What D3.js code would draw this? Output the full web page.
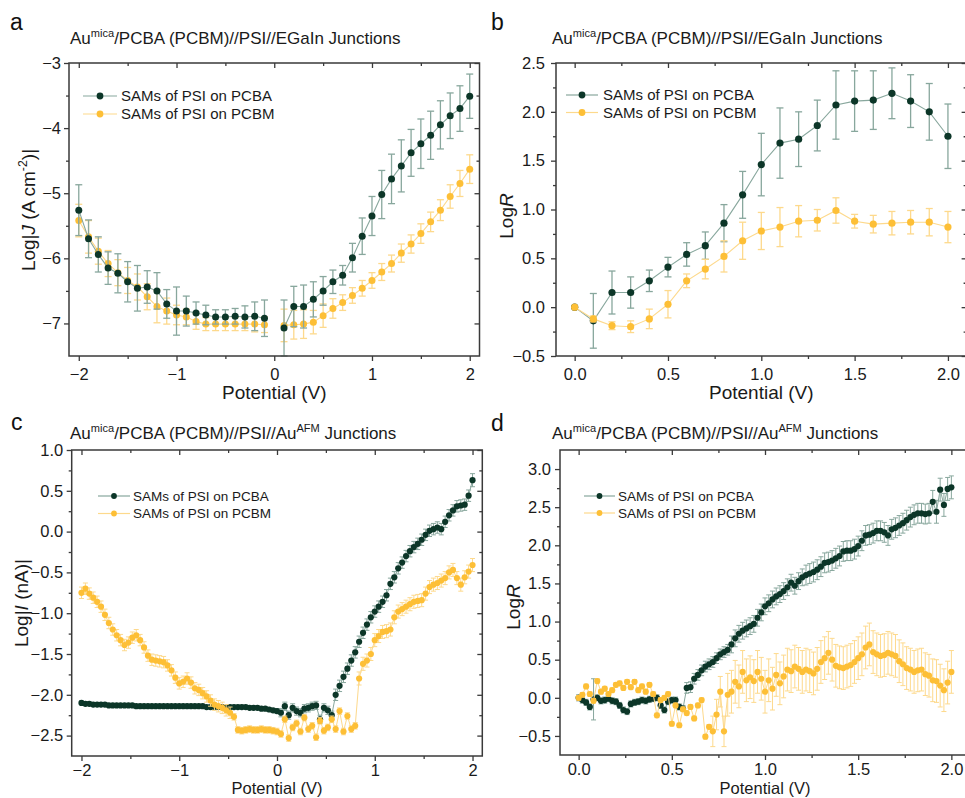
<!DOCTYPE html>
<html>
<head>
<meta charset="utf-8">
<script src="https://cdn.jsdelivr.net/npm/d3@7"></script>
<style>
body { margin: 0; background: #fff; }
</style>
</head>
<body>
<script>
// ---- panel a : EGaIn, log|J| vs potential (0.1 V steps, no point at 0 V)
var aVolts = [-2.0,-1.9,-1.8,-1.7,-1.6,-1.5,-1.4,-1.3,-1.2,-1.1,-1.0,-0.9,-0.8,-0.7,-0.6,-0.5,-0.4,-0.3,-0.2,-0.1,0,
  0.1,0.2,0.3,0.4,0.5,0.6,0.7,0.8,0.9,1.0,1.1,1.2,1.3,1.4,1.5,1.6,1.7,1.8,1.9,2.0];
var aPCBA = [-5.26,-5.70,-5.94,-6.15,-6.23,-6.36,-6.46,-6.44,-6.50,-6.70,-6.81,-6.81,-6.84,-6.87,-6.90,-6.90,-6.89,-6.90,-6.89,-6.92,null,
  -7.07,-6.74,-6.74,-6.63,-6.50,-6.36,-6.26,-5.99,-5.66,-5.35,-5.02,-4.78,-4.58,-4.38,-4.24,-4.11,-3.95,-3.81,-3.70,-3.51];
var aPCBAErr = [0.39,0.29,0.27,0.25,0.30,0.31,0.35,0.25,0.28,0.22,0.37,0.23,0.17,0.15,0.11,0.11,0.12,0.17,0.22,0.28,null,
  0.43,0.31,0.33,0.27,0.22,0.18,0.15,0.22,0.28,0.30,0.37,0.38,0.40,0.36,0.38,0.37,0.37,0.35,0.35,0.34];
var aPCBM = [-5.42,-5.67,-5.89,-6.08,-6.22,-6.34,-6.44,-6.59,-6.74,-6.81,-6.87,-6.90,-6.97,-7.01,-7.01,-7.01,-7.01,-7.01,-7.01,-7.02,null,
  -7.03,-7.02,-7.01,-6.98,-6.88,-6.77,-6.68,-6.57,-6.46,-6.34,-6.21,-6.08,-5.92,-5.78,-5.62,-5.44,-5.26,-5.05,-4.85,-4.63];
var aPCBMErr = [0.25,0.25,0.20,0.20,0.20,0.20,0.20,0.20,0.25,0.20,0.15,0.12,0.12,0.10,0.10,0.10,0.10,0.10,0.12,0.12,null,
  0.25,0.22,0.22,0.18,0.18,0.15,0.12,0.12,0.12,0.12,0.13,0.13,0.14,0.14,0.15,0.15,0.16,0.18,0.20,0.22];

// ---- panel b : EGaIn, log R
var bVolts = [0.0,0.1,0.2,0.3,0.4,0.5,0.6,0.7,0.8,0.9,1.0,1.1,1.2,1.3,1.4,1.5,1.6,1.7,1.8,1.9,2.0];
var bPCBA = [0.00,-0.14,0.15,0.15,0.27,0.41,0.54,0.63,0.86,1.15,1.46,1.68,1.72,1.86,2.07,2.11,2.12,2.19,2.11,2.00,1.75];
var bPCBAErr = [0,0.28,0.22,0.16,0.11,0.10,0.12,0.14,0.19,0.24,0.32,0.36,0.28,0.26,0.35,0.31,0.30,0.26,0.27,0.29,0.33];
var bPCBM = [0.00,-0.12,-0.19,-0.20,-0.12,0.03,0.27,0.39,0.52,0.68,0.78,0.82,0.88,0.89,0.99,0.88,0.85,0.86,0.87,0.87,0.82];
var bPCBMErr = [0,0.03,0.04,0.06,0.10,0.14,0.07,0.10,0.16,0.19,0.19,0.20,0.16,0.11,0.13,0.07,0.09,0.12,0.12,0.14,0.16];

// ---- panel c : CP-AFM, log|I|
var cVolts = [-2.00,-1.96,-1.92,-1.88,-1.84,-1.80,-1.76,-1.72,-1.68,-1.64,
  -1.60,-1.56,-1.52,-1.48,-1.44,-1.40,-1.36,-1.32,-1.28,-1.24,
  -1.20,-1.16,-1.12,-1.08,-1.04,-1.00,-0.96,-0.92,-0.88,-0.84,
  -0.80,-0.76,-0.72,-0.68,-0.64,-0.60,-0.56,-0.52,-0.48,-0.44,
  -0.40,-0.36,-0.32,-0.28,-0.24,-0.20,-0.16,-0.12,-0.08,-0.04,
  0.00,0.04,0.08,0.12,0.16,0.20,0.24,0.28,0.32,0.36,
  0.40,0.44,0.48,0.52,0.56,0.60,0.64,0.68,0.72,0.76,
  0.80,0.84,0.88,0.92,0.96,1.00,1.04,1.08,1.12,1.16,
  1.20,1.24,1.28,1.32,1.36,1.40,1.44,1.48,1.52,1.56,
  1.60,1.64,1.68,1.72,1.76,1.80,1.84,1.88,1.92,1.96,
  2.00];
var cPCBA = [-2.10,-2.11,-2.11,-2.12,-2.12,-2.12,-2.12,-2.13,-2.13,-2.13,
  -2.13,-2.13,-2.13,-2.13,-2.14,-2.14,-2.14,-2.14,-2.14,-2.14,
  -2.14,-2.14,-2.14,-2.14,-2.14,-2.14,-2.14,-2.14,-2.14,-2.14,
  -2.14,-2.14,-2.15,-2.15,-2.15,-2.15,-2.15,-2.15,-2.15,-2.15,
  -2.15,-2.15,-2.15,-2.16,-2.16,-2.16,-2.17,-2.17,-2.18,-2.19,
  -2.20,-2.22,-2.14,-2.25,-2.16,-2.20,-2.22,-2.17,-2.16,-2.14,
  -2.13,-2.30,-2.16,-2.19,-2.25,-2.00,-1.89,-1.78,-1.68,-1.58,
  -1.48,-1.35,-1.24,-1.14,-1.05,-0.98,-0.92,-0.86,-0.78,-0.64,
  -0.56,-0.45,-0.38,-0.30,-0.24,-0.19,-0.15,-0.10,-0.04,0.01,
  0.03,0.05,0.03,0.12,0.20,0.26,0.31,0.32,0.33,0.44,
  0.63];
var cPCBAErr = [0.02,0.02,0.02,0.02,0.02,0.02,0.02,0.02,0.02,0.02,
  0.02,0.02,0.02,0.02,0.02,0.02,0.02,0.02,0.02,0.02,
  0.02,0.02,0.02,0.02,0.02,0.02,0.02,0.02,0.02,0.02,
  0.02,0.02,0.02,0.02,0.02,0.02,0.02,0.02,0.02,0.02,
  0.02,0.02,0.02,0.02,0.02,0.02,0.02,0.02,0.02,0.02,
  0.03,0.05,0.05,0.05,0.05,0.05,0.05,0.05,0.05,0.05,
  0.05,0.05,0.05,0.05,0.05,0.07,0.07,0.07,0.07,0.07,
  0.07,0.07,0.07,0.07,0.07,0.07,0.07,0.07,0.07,0.07,
  0.07,0.07,0.07,0.07,0.07,0.07,0.07,0.07,0.07,0.07,
  0.07,0.07,0.07,0.07,0.07,0.07,0.07,0.07,0.07,0.07,
  0.08];
var cPCBM = [-0.75,-0.70,-0.76,-0.81,-0.86,-0.92,-1.02,-1.12,-1.20,-1.27,
  -1.33,-1.39,-1.36,-1.30,-1.27,-1.33,-1.42,-1.52,-1.57,-1.58,
  -1.59,-1.60,-1.64,-1.70,-1.79,-1.86,-1.84,-1.80,-1.85,-1.92,
  -1.94,-1.98,-2.02,-2.07,-2.12,-2.14,-2.16,-2.19,-2.22,-2.27,
  -2.43,-2.44,-2.43,-2.42,-2.43,-2.43,-2.42,-2.43,-2.43,-2.44,
  -2.45,-2.48,-2.30,-2.53,-2.40,-2.35,-2.45,-2.28,-2.42,-2.38,
  -2.52,-2.32,-2.44,-2.40,-2.30,-2.42,-2.20,-2.45,-2.26,-2.42,
  -2.38,-1.80,-1.62,-1.58,-1.50,-1.33,-1.28,-1.23,-1.22,-1.20,
  -1.05,-0.98,-0.95,-0.92,-0.89,-0.86,-0.85,-0.84,-0.76,-0.68,
  -0.65,-0.63,-0.60,-0.57,-0.50,-0.47,-0.57,-0.65,-0.56,-0.49,
  -0.41];
var cPCBMErr = [0.07,0.07,0.07,0.07,0.07,0.07,0.07,0.07,0.07,0.07,
  0.07,0.07,0.07,0.07,0.07,0.07,0.07,0.07,0.07,0.07,
  0.07,0.07,0.07,0.07,0.07,0.07,0.07,0.07,0.07,0.07,
  0.07,0.07,0.07,0.07,0.07,0.07,0.07,0.07,0.07,0.04,
  0.04,0.04,0.04,0.04,0.04,0.04,0.04,0.04,0.04,0.04,
  0.04,0.04,0.04,0.04,0.04,0.04,0.04,0.04,0.04,0.04,
  0.04,0.04,0.04,0.04,0.04,0.04,0.04,0.04,0.04,0.04,
  0.04,0.08,0.08,0.08,0.08,0.08,0.08,0.08,0.08,0.08,
  0.08,0.08,0.08,0.08,0.08,0.08,0.08,0.08,0.08,0.08,
  0.08,0.08,0.08,0.08,0.08,0.08,0.08,0.08,0.08,0.08,
  0.08];

// ---- panel d : CP-AFM, log R
var dVolts = [0.00,0.02,0.04,0.06,0.08,0.10,0.12,0.14,0.16,0.18,
  0.20,0.22,0.24,0.26,0.28,0.30,0.32,0.34,0.36,0.38,
  0.40,0.42,0.44,0.46,0.48,0.50,0.52,0.54,0.56,0.58,
  0.60,0.62,0.64,0.66,0.68,0.70,0.72,0.74,0.76,0.78,
  0.80,0.82,0.84,0.86,0.88,0.90,0.92,0.94,0.96,0.98,
  1.00,1.02,1.04,1.06,1.08,1.10,1.12,1.14,1.16,1.18,
  1.20,1.22,1.24,1.26,1.28,1.30,1.32,1.34,1.36,1.38,
  1.40,1.42,1.44,1.46,1.48,1.50,1.52,1.54,1.56,1.58,
  1.60,1.62,1.64,1.66,1.68,1.70,1.72,1.74,1.76,1.78,
  1.80,1.82,1.84,1.86,1.88,1.90,1.92,1.94,1.96,1.98,
  2.00];
var dPCBA = [0.00,-0.03,-0.06,-0.12,-0.02,0.00,-0.04,-0.03,-0.01,-0.04,
  -0.05,-0.10,-0.16,-0.18,-0.08,-0.06,-0.05,-0.03,-0.04,-0.02,
  -0.01,0.00,-0.10,-0.16,-0.05,-0.03,-0.03,-0.12,-0.14,0.13,
  0.14,0.25,0.30,0.36,0.41,0.44,0.47,0.52,0.57,0.60,
  0.63,0.70,0.78,0.84,0.88,0.91,0.94,0.97,1.05,1.12,
  1.20,1.24,1.29,1.33,1.36,1.40,1.45,1.51,1.47,1.53,
  1.58,1.61,1.63,1.65,1.68,1.72,1.77,1.78,1.80,1.83,
  1.86,1.92,1.93,1.93,1.95,1.99,2.06,2.13,2.14,2.16,
  2.19,2.19,2.17,2.13,2.21,2.23,2.26,2.29,2.33,2.37,
  2.40,2.42,2.42,2.41,2.42,2.57,2.44,2.73,2.53,2.74,
  2.76];
var dPCBAErr = [0.04,0.04,0.04,0.04,0.27,0.04,0.04,0.04,0.04,0.04,
  0.04,0.04,0.04,0.04,0.04,0.04,0.04,0.04,0.04,0.04,
  0.04,0.04,0.04,0.04,0.04,0.04,0.04,0.04,0.04,0.07,
  0.07,0.07,0.07,0.07,0.07,0.07,0.07,0.07,0.07,0.07,
  0.07,0.11,0.11,0.11,0.11,0.11,0.11,0.11,0.11,0.11,
  0.11,0.11,0.11,0.11,0.11,0.11,0.11,0.11,0.11,0.11,
  0.11,0.13,0.13,0.13,0.13,0.13,0.13,0.13,0.13,0.13,
  0.13,0.13,0.13,0.13,0.13,0.13,0.13,0.13,0.13,0.13,
  0.13,0.13,0.13,0.13,0.13,0.13,0.13,0.13,0.13,0.13,
  0.13,0.13,0.13,0.13,0.13,0.15,0.15,0.15,0.15,0.15,
  0.15];
var dPCBM = [0.00,0.04,0.15,0.05,-0.04,0.22,0.08,0.12,0.05,0.10,
  0.17,0.19,0.13,0.21,0.14,0.21,0.10,0.15,0.08,0.17,
  0.05,-0.23,-0.03,0.00,0.05,-0.34,-0.10,-0.36,-0.15,-0.20,
  -0.12,-0.27,-0.10,-0.03,-0.51,-0.38,-0.44,-0.22,0.08,-0.44,
  0.04,0.08,0.21,0.15,0.34,0.23,0.27,0.22,0.34,0.25,
  0.08,0.23,0.12,0.30,0.19,0.28,0.37,0.35,0.41,0.38,
  0.34,0.37,0.35,0.32,0.38,0.47,0.52,0.59,0.50,0.42,
  0.40,0.39,0.41,0.43,0.47,0.52,0.57,0.66,0.70,0.60,
  0.57,0.55,0.56,0.59,0.57,0.55,0.48,0.44,0.39,0.37,
  0.34,0.36,0.37,0.31,0.29,0.23,0.22,0.16,0.10,0.20,
  0.34];
var dPCBMErr = [0.03,0.03,0.03,0.03,0.03,0.03,0.03,0.03,0.03,0.03,
  0.03,0.03,0.03,0.03,0.03,0.03,0.03,0.03,0.03,0.03,
  0.03,0.03,0.03,0.03,0.03,0.03,0.03,0.03,0.03,0.03,
  0.03,0.03,0.03,0.03,0.03,0.03,0.20,0.20,0.20,0.20,
  0.28,0.28,0.28,0.28,0.28,0.28,0.28,0.28,0.28,0.28,
  0.28,0.28,0.28,0.28,0.28,0.28,0.28,0.28,0.28,0.28,
  0.28,0.28,0.28,0.28,0.28,0.28,0.28,0.28,0.28,0.28,
  0.28,0.28,0.28,0.28,0.28,0.28,0.28,0.28,0.28,0.28,
  0.28,0.28,0.28,0.28,0.28,0.28,0.28,0.28,0.28,0.28,
  0.28,0.28,0.28,0.28,0.28,0.28,0.28,0.28,0.28,0.28,
  0.28];

var seriesNames = ["SAMs of PSI on PCBA", "SAMs of PSI on PCBM"];
var xTitle = "Potential (V)";

var col = {
  pcba: "#0c3628", pcbaLight: "#88a79d",
  pcbm: "#fdbf36", pcbmLight: "#fdd98c",
  axis: "#3a3a3a", text: "#1a1a1a"
};

var svg = d3.select("body").append("svg")
  .attr("width", 965).attr("height", 798)
  .style("font-family", "Arial, 'Liberation Sans', sans-serif");

// text with superscript / italic pieces
function rich(sel, parts, size){
  var shift = 0;
  parts.forEach(function(p){
    var t = sel.append("tspan").text(p.t);
    var target = p.sup ? -0.4 * size : 0;
    if (target !== shift){ t.attr("dy", target - shift); shift = target; }
    if (p.sup) t.attr("font-size", size * 0.65);
    if (p.it) t.attr("font-style", "italic");
  });
}

function add_axis(g, maker, scale, transform, major, minor, fmt, inward, pad){
  var s = inward ? -1 : 1;
  var mi = g.append("g").attr("transform", transform)
    .call(maker(scale).tickValues(minor).tickSize(3 * s).tickSizeOuter(0).tickFormat(""));
  var ma = g.append("g").attr("transform", transform)
    .call(maker(scale).tickValues(major).tickSize(5 * s).tickSizeOuter(0)
      .tickPadding(pad || 0).tickFormat(fmt || (function(){ return ""; })));
  [mi, ma].forEach(function(a){
    a.select(".domain").remove();
    a.attr("font-family", null);
    a.selectAll("line").attr("stroke", col.axis).attr("stroke-width", 1.3);
  });
  ma.selectAll("text").attr("font-size", 16.5).attr("fill", col.text);
}

function draw_series(g, x, y, s, p){
  var pts = s.volts.map(function(v, i){ return {v: v, y: s.vals[i], e: s.errs[i]}; });
  var ok = pts.filter(function(d){ return d.y !== null; });
  var sg = g.append("g");

  var bars = sg.append("g").attr("stroke", s.light).attr("stroke-width", p.ebWidth)
    .selectAll("g").data(ok.filter(function(d){ return d.e > 0; })).enter().append("g");
  bars.append("line")
    .attr("x1", d => x(d.v)).attr("x2", d => x(d.v))
    .attr("y1", d => y(d.y - d.e)).attr("y2", d => y(d.y + d.e));
  bars.append("line")
    .attr("x1", d => x(d.v) - p.cap).attr("x2", d => x(d.v) + p.cap)
    .attr("y1", d => y(d.y + d.e)).attr("y2", d => y(d.y + d.e));
  bars.append("line")
    .attr("x1", d => x(d.v) - p.cap).attr("x2", d => x(d.v) + p.cap)
    .attr("y1", d => y(d.y - d.e)).attr("y2", d => y(d.y - d.e));

  sg.append("path").datum(pts)
    .attr("fill", "none").attr("stroke", s.light).attr("stroke-width", p.lineWidth)
    .attr("d", d3.line().defined(d => d.y !== null).x(d => x(d.v)).y(d => y(d.y)));

  sg.selectAll("circle").data(ok).enter().append("circle")
    .attr("cx", d => x(d.v)).attr("cy", d => y(d.y))
    .attr("r", p.r).attr("fill", s.dark);
}

function draw_panel(p){
  var x = d3.scaleLinear().domain(p.xDomain).range([p.left, p.right]);
  var y = d3.scaleLinear().domain(p.yDomain).range([p.bottom, p.top]);
  var g = svg.append("g");

  p.series.forEach(function(s){ draw_series(g, x, y, s, p); });

  add_axis(g, d3.axisBottom, x, "translate(0," + p.bottom + ")", p.xMajor, p.xMinor, p.xFmt, false, p.xPad);
  add_axis(g, d3.axisTop, x, "translate(0," + p.top + ")", p.xMajor, p.xMinor, null, true, 0);
  add_axis(g, d3.axisLeft, y, "translate(" + p.left + ",0)", p.yMajor, p.yMinor, p.yFmt, false, p.yPad);
  add_axis(g, d3.axisRight, y, "translate(" + p.right + ",0)", p.yMajor, p.yMinor, null, true, 0);

  g.append("rect")
    .attr("x", p.left).attr("y", p.top)
    .attr("width", p.right - p.left).attr("height", p.bottom - p.top)
    .attr("fill", "none").attr("stroke", col.axis).attr("stroke-width", 1.5);

  // legend
  var L = p.legend;
  [{dark: col.pcba, light: col.pcbaLight}, {dark: col.pcbm, light: col.pcbmLight}].forEach(function(s, i){
    var ly = L.y + i * L.dy;
    g.append("line").attr("x1", L.x0).attr("x2", L.x1).attr("y1", ly).attr("y2", ly)
      .attr("stroke", s.light).attr("stroke-width", 1.2);
    g.append("circle").attr("cx", (L.x0 + L.x1) / 2).attr("cy", ly).attr("r", L.r).attr("fill", s.dark);
    g.append("text").attr("x", L.tx).attr("y", ly + L.size * 0.36)
      .attr("font-size", L.size).attr("fill", col.text).text(seriesNames[i]);
  });

  // panel letter, title, axis titles
  g.append("text").attr("x", p.letter[1]).attr("y", p.letter[2])
    .attr("font-size", 23).attr("fill", "#111").text(p.letter[0]);
  rich(g.append("text").attr("x", p.titleX).attr("y", p.titleY)
    .attr("font-size", 17).attr("fill", col.text), p.title, 17);
  g.append("text").attr("x", x(p.xMajor[2])).attr("y", p.xLabelY)
    .attr("text-anchor", "middle").attr("font-size", p.xLabelSize).attr("fill", col.text).text(xTitle);
  rich(g.append("text")
    .attr("transform", "translate(" + p.yLabelX + "," + p.yLabelCY + ") rotate(-90)")
    .attr("text-anchor", "middle").attr("font-size", 19).attr("fill", col.text), p.yTitle, 19);
}

var titleEGaIn = [{t: "Au"}, {t: "mica", sup: true}, {t: "/PCBA (PCBM)//PSI//EGaIn Junctions"}];
var titleAFM = [{t: "Au"}, {t: "mica", sup: true}, {t: "/PCBA (PCBM)//PSI//Au"}, {t: "AFM", sup: true}, {t: " Junctions"}];
var fmtInt = d3.format("d"), fmt1 = d3.format(".1f");

draw_panel({
  left: 69, right: 479.5, top: 63, bottom: 356,
  xDomain: [-2.1, 2.1], yDomain: [-7.5, -3],
  xMajor: [-2, -1, 0, 1, 2], xMinor: [-1.5, -0.5, 0.5, 1.5],
  yMajor: [-7, -6, -5, -4, -3], yMinor: [-6.5, -5.5, -4.5, -3.5],
  xFmt: fmtInt, yFmt: fmtInt, xPad: 7, yPad: 3,
  r: 3.5, cap: 3.5, ebWidth: 1.3, lineWidth: 1.1,
  series: [
    {volts: aVolts, vals: aPCBM, errs: aPCBMErr, dark: col.pcbm, light: col.pcbmLight},
    {volts: aVolts, vals: aPCBA, errs: aPCBAErr, dark: col.pcba, light: col.pcbaLight}
  ],
  legend: {x0: 83, x1: 117, y: 96, dy: 18, r: 3.4, tx: 121, size: 15},
  letter: ["a", 10, 30], title: titleEGaIn, titleX: 70, titleY: 44,
  xLabelY: 399, xLabelSize: 19, yLabelX: 35, yLabelCY: 210,
  yTitle: [{t: "Log|"}, {t: "J", it: true}, {t: " (A cm"}, {t: "-2", sup: true}, {t: ")|"}]
});

draw_panel({
  left: 556, right: 966.6, top: 63, bottom: 356,
  xDomain: [-0.1, 2.1], yDomain: [-0.5, 2.5],
  xMajor: [0, 0.5, 1, 1.5, 2], xMinor: [0.25, 0.75, 1.25, 1.75],
  yMajor: [-0.5, 0, 0.5, 1, 1.5, 2, 2.5], yMinor: [-0.25, 0.25, 0.75, 1.25, 1.75, 2.25],
  xFmt: fmt1, yFmt: fmt1, xPad: 7, yPad: 6,
  r: 3.6, cap: 3.5, ebWidth: 1.3, lineWidth: 1.1,
  series: [
    {volts: bVolts, vals: bPCBA, errs: bPCBAErr, dark: col.pcba, light: col.pcbaLight},
    {volts: bVolts, vals: bPCBM, errs: bPCBMErr, dark: col.pcbm, light: col.pcbmLight}
  ],
  legend: {x0: 566, x1: 598, y: 95, dy: 17.5, r: 3.4, tx: 603, size: 15},
  letter: ["b", 491, 30], title: titleEGaIn, titleX: 552, titleY: 44,
  xLabelY: 399, xLabelSize: 19, yLabelX: 513, yLabelCY: 216,
  yTitle: [{t: "Log"}, {t: "R", it: true}]
});

draw_panel({
  left: 71.7, right: 482.3, top: 450, bottom: 756,
  xDomain: [-2.1, 2.1], yDomain: [-2.75, 1.0],
  xMajor: [-2, -1, 0, 1, 2], xMinor: [-1.5, -0.5, 0.5, 1.5],
  yMajor: [-2.5, -2, -1.5, -1, -0.5, 0, 0.5, 1], yMinor: [-2.25, -1.75, -1.25, -0.75, -0.25, 0.25, 0.75],
  xFmt: fmtInt, yFmt: fmt1, xPad: 3, yPad: 3.5,
  r: 3.1, cap: 2.5, ebWidth: 1, lineWidth: 1,
  series: [
    {volts: cVolts, vals: cPCBA, errs: cPCBAErr, dark: col.pcba, light: col.pcbaLight},
    {volts: cVolts, vals: cPCBM, errs: cPCBMErr, dark: col.pcbm, light: col.pcbmLight}
  ],
  legend: {x0: 98, x1: 130, y: 496, dy: 17.5, r: 2.9, tx: 133, size: 13.5},
  letter: ["c", 11, 430], title: titleAFM, titleX: 70, titleY: 439,
  xLabelY: 794, xLabelSize: 16.5, yLabelX: 28, yLabelCY: 603,
  yTitle: [{t: "Log|"}, {t: "I", it: true}, {t: " (nA)|"}]
});

draw_panel({
  left: 560, right: 970, top: 450, bottom: 755,
  xDomain: [-0.1, 2.1], yDomain: [-0.75, 3.25],
  xMajor: [0, 0.5, 1, 1.5, 2], xMinor: [0.25, 0.75, 1.25, 1.75],
  yMajor: [-0.5, 0, 0.5, 1, 1.5, 2, 2.5, 3], yMinor: [-0.25, 0.25, 0.75, 1.25, 1.75, 2.25, 2.75],
  xFmt: fmt1, yFmt: fmt1, xPad: 3, yPad: 4,
  r: 3.1, cap: 2.5, ebWidth: 1, lineWidth: 1,
  series: [
    {volts: dVolts, vals: dPCBA, errs: dPCBAErr, dark: col.pcba, light: col.pcbaLight},
    {volts: dVolts, vals: dPCBM, errs: dPCBMErr, dark: col.pcbm, light: col.pcbmLight}
  ],
  legend: {x0: 584, x1: 615, y: 496, dy: 17, r: 2.9, tx: 618, size: 13.5},
  letter: ["d", 491, 431], title: titleAFM, titleX: 552, titleY: 439,
  xLabelY: 794, xLabelSize: 16.5, yLabelX: 520, yLabelCY: 607,
  yTitle: [{t: "Log"}, {t: "R", it: true}]
});
</script>
</body>
</html>
